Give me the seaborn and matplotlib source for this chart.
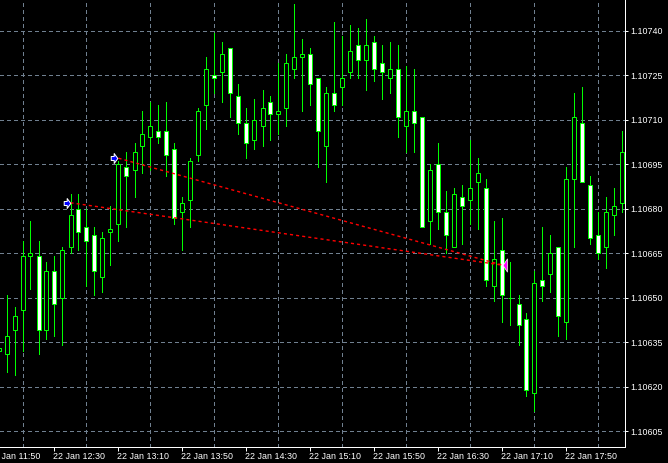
import numpy as np
import pandas as pd
import matplotlib
matplotlib.use("Agg")
import matplotlib.pyplot as plt
from matplotlib.path import Path
from matplotlib.ticker import FixedLocator, FixedFormatter
from matplotlib.transforms import ScaledTranslation
import seaborn as sns

# bar index (5-minute bars), -1 is the bar cut by the left edge
bars = list(range(-1, 78))
opens = [1.10632,1.10631,1.10639,1.10646,1.10664,1.10664,1.10639,1.10659,1.10650,1.10667,1.10680,1.10674,1.10671,1.10657,1.10672,1.10675,1.10694,1.10693,1.10701,1.10704,
         1.10706,1.10706,1.10700,1.10679,1.10683,1.10698,1.10715,1.10725,1.10726,1.10734,1.10718,1.10709,1.10703,1.10708,1.10716,1.10712,1.10714,1.10727,1.10731,1.10732,
         1.10724,1.10701,1.10719,1.10721,1.10726,1.10735,1.10730,1.10736,1.10729,1.10724,1.10727,1.10708,1.10713,1.10711,1.10676,1.10695,1.10679,1.10667,1.10684,1.10683,
         1.10689,1.10687,1.10654,1.10666,1.10650,1.10648,1.10643,1.10618,1.10656,1.10658,1.10667,1.10642,1.10690,1.10709,1.10688,1.10671,1.10667,1.10678,1.10682]
closes = [1.10633,1.10637,1.10644,1.10664,1.10665,1.10639,1.10659,1.10648,1.10666,1.10678,1.10672,1.10669,1.10659,1.10670,1.10673,1.10695,1.10691,1.10699,1.10705,1.10708,
          1.10704,1.10698,1.10677,1.10682,1.10696,1.10713,1.10727,1.10724,1.10732,1.10719,1.10709,1.10702,1.10710,1.10714,1.10712,1.10713,1.10729,1.10731,1.10732,1.10722,
          1.10706,1.10719,1.10715,1.10724,1.10733,1.10730,1.10735,1.10727,1.10726,1.10727,1.10711,1.10713,1.10709,1.10674,1.10693,1.10679,1.10671,1.10685,1.10681,1.10687,
          1.10692,1.10656,1.10663,1.10651,1.10650,1.10641,1.10619,1.10655,1.10654,1.10665,1.10644,1.10690,1.10711,1.10689,1.10670,1.10665,1.10679,1.10681,1.10699]
highs = [1.10633,1.10651,1.10647,1.10669,1.10676,1.10669,1.10662,1.10664,1.10667,1.10685,1.10685,1.10680,1.10674,1.10672,1.10681,1.10696,1.10699,1.10702,1.10713,1.10716,
         1.10715,1.10716,1.10702,1.10684,1.10697,1.10714,1.10731,1.10739,1.10736,1.10734,1.10722,1.10714,1.10717,1.10720,1.10718,1.10729,1.10732,1.10749,1.10737,1.10734,
         1.10724,1.10721,1.10743,1.10738,1.10742,1.10741,1.10744,1.10738,1.10735,1.10736,1.10735,1.10728,1.10727,1.10711,1.10695,1.10702,1.10686,1.10687,1.10688,1.10703,
         1.10697,1.10690,1.10676,1.10677,1.10662,1.10651,1.10645,1.10659,1.10674,1.10671,1.10667,1.10694,1.10719,1.10721,1.10691,1.10679,1.10684,1.10687,1.10706]
lows = [1.10632,1.10625,1.10624,1.10632,1.10653,1.10631,1.10636,1.10637,1.10634,1.10665,1.10666,1.10654,1.10651,1.10652,1.10661,1.10669,1.10674,1.10684,1.10692,1.10693,
        1.10702,1.10691,1.10675,1.10666,1.10674,1.10696,1.10707,1.10719,1.10716,1.10711,1.10705,1.10697,1.10700,1.10701,1.10703,1.10705,1.10708,1.10724,1.10713,1.10715,
        1.10694,1.10689,1.10713,1.10715,1.10724,1.10724,1.10720,1.10723,1.10717,1.10719,1.10704,1.10699,1.10699,1.10674,1.10668,1.10673,1.10665,1.10667,1.10668,1.10675,
        1.10673,1.10654,1.10649,1.10642,1.10641,1.10634,1.10617,1.10612,1.10649,1.10652,1.10637,1.10636,1.10667,1.10689,1.10668,1.10663,1.10660,1.10671,1.10679]

# trades: open bar/price and the shared close
trade_open_bars = [8, 14]
trade_open_prices = [1.10682, 1.10697]
trade_close_bar = 62
trade_close_price = 1.10661

y_ticks = [1.10605,1.10620,1.10635,1.10650,1.10665,1.10680,1.10695,1.10710,1.10725,1.10740]
time_bars = [6,14,22,30,38,46,54,62,70]
time_labels = ["22 Jan 12:30","22 Jan 13:10","22 Jan 13:50","22 Jan 14:30","22 Jan 15:10",
               "22 Jan 15:50","22 Jan 16:30","22 Jan 17:10","22 Jan 17:50"]
first_time_bar, first_time_label = -2, "22 Jan 11:50"
grid_bars = list(range(2, 78, 4))

W, H = 668, 463
PX = 72 / 100
GREEN, GRID, RED = "#00FF00", "#708090", "#FF0000"
sns.set_theme(style="dark", rc={
    "figure.facecolor": "black", "axes.facecolor": "black", "savefig.facecolor": "black",
    "text.color": "white", "xtick.color": "white", "ytick.color": "white",
    "axes.edgecolor": "white", "axes.axisbelow": True,
    "font.size": 6.4})
plt.rcParams["font.family"] = ["Liberation Sans", "DejaVu Sans"]

fig = plt.figure(figsize=(W / 100, H / 100), dpi=100)
ax = fig.add_axes([0, (H - 446.5) / H, 624.5 / W, 446.5 / H])

df = pd.DataFrame({"bar": bars, "open": opens, "close": closes, "high": highs, "low": lows})
df["top"] = df[["open", "close"]].max(axis=1)
df["bottom"] = df[["open", "close"]].min(axis=1)
df["height"] = df["top"] - df["bottom"]

# wicks
wicks = df.melt(id_vars="bar", value_vars=["high", "low"], value_name="price")
sns.lineplot(data=wicks, x="bar", y="price", units="bar", estimator=None, sort=False,
             color=GREEN, linewidth=PX, antialiased=False, ax=ax, zorder=2, legend=False)

# bodies: rising bars black, falling bars white
for sub, fill in ((df[df["close"] >= df["open"]], "black"), (df[df["close"] < df["open"]], "white")):
    sns.barplot(data=sub, x="bar", y="height", bottom=sub["bottom"].to_numpy(), native_scale=True,
                width=0.5, color=fill, saturation=1, edgecolor=GREEN, linewidth=PX,
                errorbar=None, ax=ax, zorder=3, legend=False)

# trade lines
for b, p in zip(trade_open_bars, trade_open_prices):
    seg = pd.DataFrame({"bar": [b, trade_close_bar], "price": [p, trade_close_price]})
    sns.lineplot(data=seg, x="bar", y="price", estimator=None, sort=False, color=RED, linewidth=1.4 * PX,
                 linestyle=(0, (2.2, 2.2)), dash_capstyle="butt", antialiased=True, ax=ax, zorder=4, legend=False)

# arrows
right_arrow = Path([(-1.1, -.3), (-.65, -.3), (-.65, -.75), (-.1, 0), (-.65, .75), (-.65, .3), (-1.1, .3), (-1.1, -.3)], closed=True)
left_arrow = Path([(.1, 0), (.75, -1.0), (.75, 1.0), (.1, 0)], closed=True)
sns.scatterplot(x=trade_open_bars, y=trade_open_prices, marker=right_arrow, s=110, color="#0000FF",
                edgecolor="white", linewidth=PX, ax=ax, zorder=6, legend=False)
sns.scatterplot(x=[trade_close_bar], y=[trade_close_price], marker=left_arrow, s=90, color="#FF00FF",
                edgecolor="white", linewidth=0.7 * PX, ax=ax, zorder=6, legend=False)

ax.set_xlim(-6.5 / 8, (624.5 - 6.5) / 8)
ax.set_ylim(1.10740 - 416.0 / 2.97 * 1e-5, 1.10740 + 30.5 / 2.97 * 1e-5)
ax.set(xlabel="", ylabel="")

# axes furniture
ax.yaxis.tick_right()
ax.set_yticks(y_ticks)
ax.set_yticklabels([f"{v:.5f}" for v in y_ticks])
ax.xaxis.set_major_locator(FixedLocator(time_bars))
ax.xaxis.set_major_formatter(FixedFormatter(time_labels))
ax.xaxis.set_minor_locator(FixedLocator(grid_bars))
ax.tick_params(axis="y", which="major", length=3 * PX, width=PX, pad=3 * PX, labelsize=6.4, colors="white",
               left=False, right=True, labelleft=False, labelright=True)
ax.tick_params(axis="x", which="major", length=4 * PX, width=PX, pad=1.5 * PX, labelsize=6.4, colors="white", bottom=True)
ax.tick_params(axis="x", which="minor", length=0, bottom=False)
shift = ScaledTranslation(-1.5 / 100, 0, fig.dpi_scale_trans)
for lab in ax.get_xticklabels():
    lab.set_ha("left")
    lab.set_transform(lab.get_transform() + shift)
ax.annotate(first_time_label, xy=(first_time_bar, 0), xycoords=ax.get_xaxis_transform(),
            xytext=(-1.5 * PX, -5.5 * PX), textcoords="offset points", ha="left", va="top", fontsize=6.4,
            color="white", annotation_clip=False)

grid_kw = dict(color=GRID, linewidth=PX, linestyle=(0, (4, 3)), antialiased=False)
ax.xaxis.grid(True, which="minor", **grid_kw)
ax.xaxis.grid(False, which="major")
ax.yaxis.grid(True, which="major", **grid_kw)

for side in ("left", "top"):
    ax.spines[side].set_visible(False)
for side in ("right", "bottom"):
    ax.spines[side].set_visible(True)
    ax.spines[side].set_color("white")
    ax.spines[side].set_linewidth(PX)

fig.savefig("out.png", dpi=100)
